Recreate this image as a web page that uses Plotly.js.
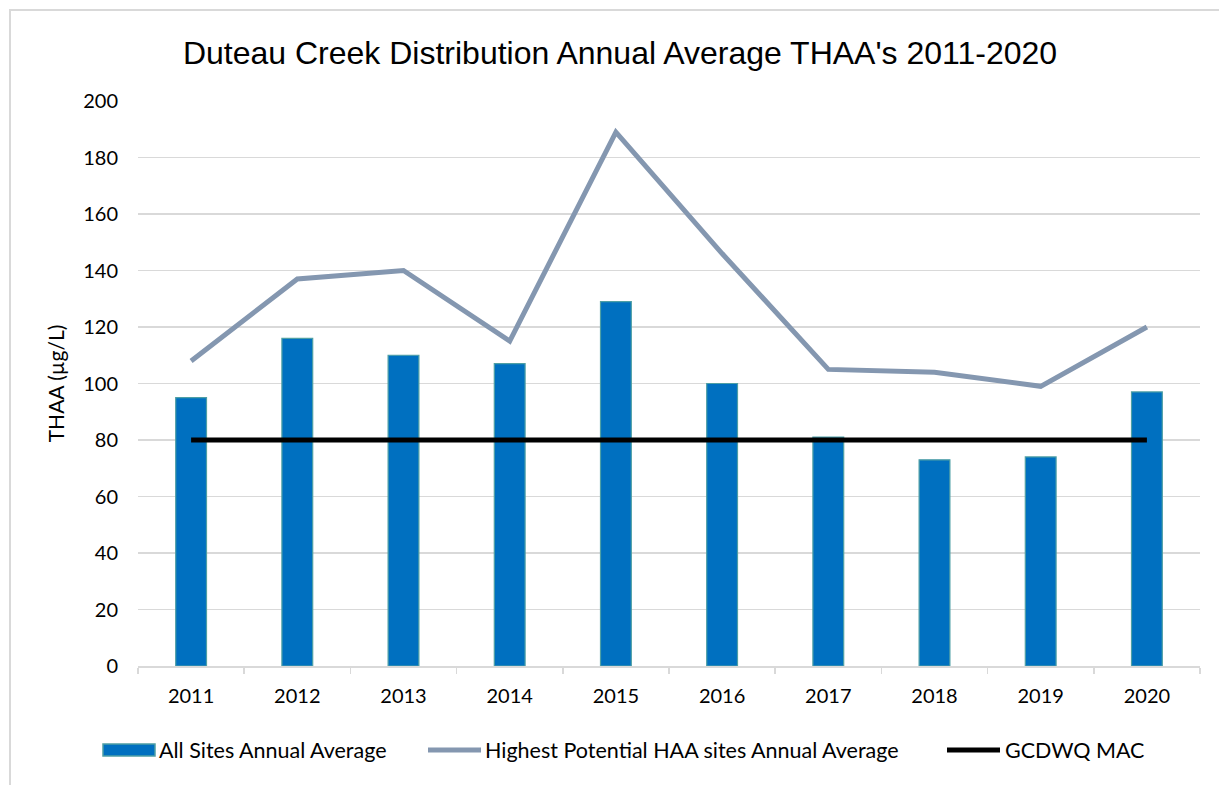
<!DOCTYPE html>
<html>
<head>
<meta charset="utf-8">
<script src="https://cdn.plot.ly/plotly-3.0.1.min.js"></script>
<style>
  html, body { margin: 0; padding: 0; background: #ffffff; }
  #wrap { position: relative; width: 1219px; height: 785px; overflow: hidden; }
  #frame { position: absolute; left: 9px; top: 9px; width: 1300px; height: 900px; border-left: 2px solid #d9d9d9; border-top: 2px solid #d9d9d9; pointer-events: none; z-index: 5; }
  #chart { position: absolute; left: 0; top: 0; width: 1219px; height: 785px; }
</style>
</head>
<body>
<div id="wrap">
  <div id="chart"></div>
  <div id="frame"></div>
</div>
<script>
const years = ['2011','2012','2013','2014','2015','2016','2017','2018','2019','2020'];
const allSitesAvg = [95, 116, 110, 107, 129, 100, 81, 73, 74, 97];
const highestPotentialAvg = [108, 137, 140, 115, 189, 146, 105, 104, 99, 120];
const gcdwqMac = [80, 80, 80, 80, 80, 80, 80, 80, 80, 80];
const seriesNames = ['All Sites Annual Average', 'Highest Potential HAA sites Annual Average', 'GCDWQ MAC'];
const yTicks = [0, 20, 40, 60, 80, 100, 120, 140, 160, 180, 200];

const barColor = '#0070C0';
const barEdge = '#4E9FA5';
const grayLine = '#8497B0';
const blackLine = '#000000';

const fam = 'Lato, "Open Sans", sans-serif';
const tickFont = {family: fam, size: 20, color: '#000000'};
const legendFont = {family: fam, size: 21.5, color: '#000000'};

const traces = [
  {type: 'bar', x: years, y: allSitesAvg, name: seriesNames[0],
   marker: {color: barColor, line: {color: barEdge, width: 1.2}}, showlegend: false, hoverinfo: 'x+y'},
  {type: 'scatter', mode: 'lines', x: years, y: highestPotentialAvg, name: seriesNames[1],
   line: {color: grayLine, width: 5}, showlegend: false},
  {type: 'scatter', mode: 'lines', x: years, y: gcdwqMac, name: seriesNames[2],
   line: {color: blackLine, width: 5}, showlegend: false}
];

// plot-area pixel helpers for legend placement (paper coords)
const L = 138, R = 1200, T = 101, B = 666;
const px = v => (v - L) / (R - L);
const py = v => (B - v) / (B - T);
const legY = 750;

const layout = {
  width: 1219, height: 785,
  margin: {l: L, r: 1219 - R, t: T, b: 785 - B, pad: 0},
  paper_bgcolor: '#ffffff', plot_bgcolor: '#ffffff',
  title: {text: "Duteau Creek Distribution Annual Average THAA's 2011-2020",
          font: {family: '"Liberation Sans", Arial, sans-serif', size: 32, color: '#000000'},
          x: px(620), xanchor: 'center', y: 1 - 53/785, yanchor: 'middle', xref: 'paper'},
  bargap: 0.71,
  xaxis: {type: 'category', range: [-0.5, 9.5], tickfont: tickFont,
          showgrid: false, showline: true, linecolor: '#d9d9d9', linewidth: 1.5,
          ticks: 'outside', tickson: 'boundaries', ticklen: 6, tickcolor: '#d9d9d9', tickwidth: 1.5,
          ticklabelstandoff: 11, fixedrange: true, zeroline: false},
  yaxis: {range: [0, 200], tickvals: yTicks, ticktext: yTicks.map(String), tickfont: tickFont,
          showgrid: true, gridcolor: '#d9d9d9', gridwidth: 1.5, zeroline: false, showline: false,
          ticks: '', ticklabelstandoff: 19,
          title: {text: 'THAA (µg/L)', font: {family: fam, size: 21, color: '#000000'}, standoff: 12},
          fixedrange: true},
  shapes: [
    {type: 'rect', xref: 'paper', yref: 'paper', x0: px(103), x1: px(155), y0: py(756), y1: py(744),
     fillcolor: barColor, line: {color: barEdge, width: 1.5}},
    {type: 'line', xref: 'paper', yref: 'paper', x0: px(428), x1: px(481), y0: py(legY), y1: py(legY),
     line: {color: grayLine, width: 5}},
    {type: 'line', xref: 'paper', yref: 'paper', x0: px(947), x1: px(1000), y0: py(legY), y1: py(legY),
     line: {color: blackLine, width: 5}}
  ],
  annotations: [
    {xref: 'paper', yref: 'paper', x: px(157), y: py(legY), xanchor: 'left', yanchor: 'middle',
     text: seriesNames[0], showarrow: false, font: legendFont},
    {xref: 'paper', yref: 'paper', x: px(483), y: py(legY), xanchor: 'left', yanchor: 'middle',
     text: seriesNames[1], showarrow: false, font: legendFont},
    {xref: 'paper', yref: 'paper', x: px(1003), y: py(legY), xanchor: 'left', yanchor: 'middle',
     text: seriesNames[2], showarrow: false, font: legendFont}
  ],
  showlegend: false
};

Plotly.newPlot('chart', traces, layout, {displayModeBar: false, staticPlot: true});
</script>
</body>
</html>
